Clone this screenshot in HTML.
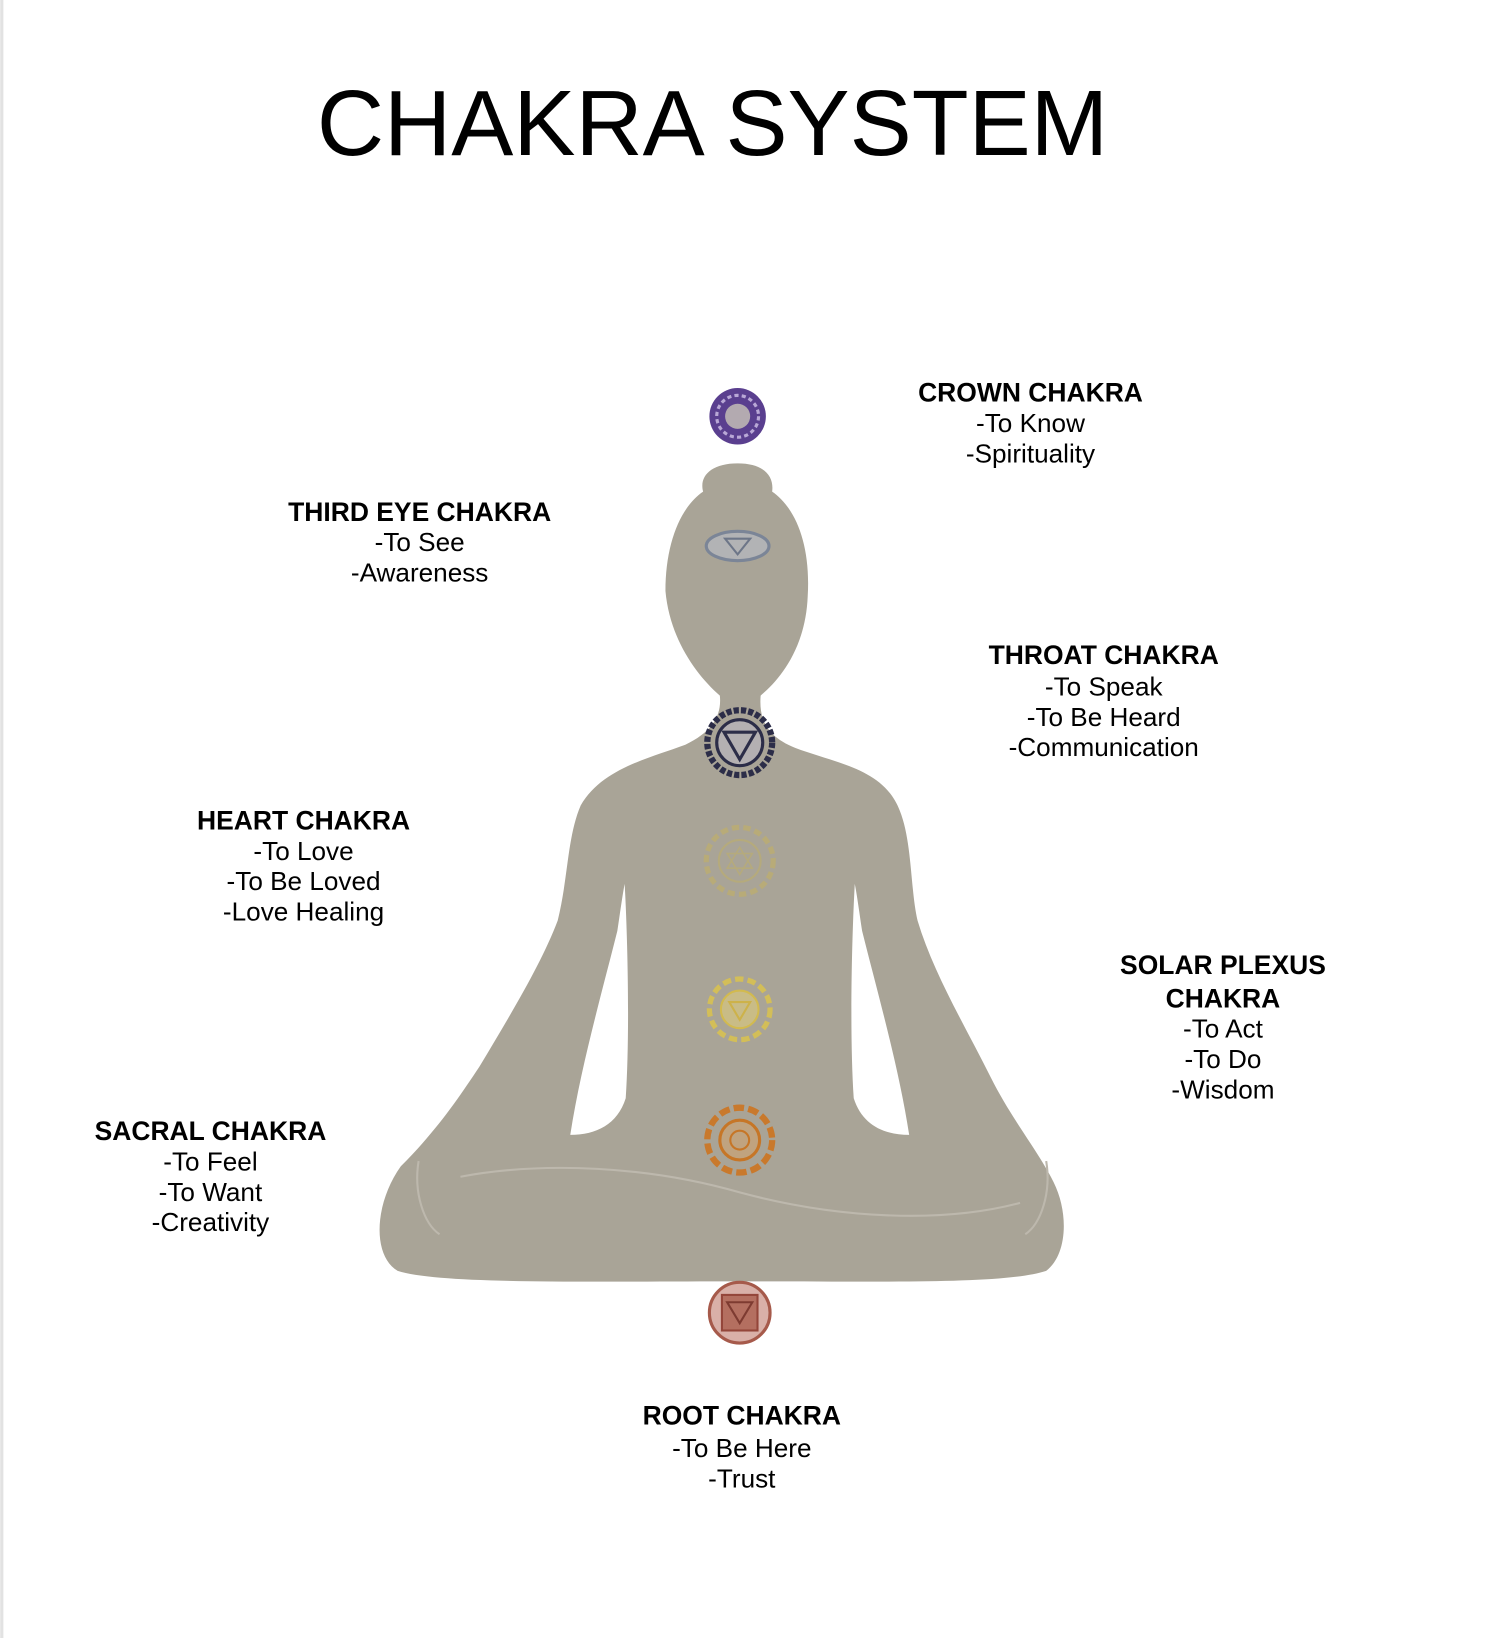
<!DOCTYPE html>
<html><head><meta charset="utf-8"><style>
html,body{margin:0;padding:0;background:#fff;}
svg{display:block;}
text{font-family:"Liberation Sans",Arial,sans-serif;fill:#000;}
.h{font-weight:bold;font-size:25.3px;}
.t{font-size:25px;}
</style></head><body>
<svg width="1492" height="1638" viewBox="0 0 1426 1566" xmlns="http://www.w3.org/2000/svg">
<rect x="0" y="0" width="1426" height="1566" fill="#fff"/>
<rect x="0" y="0" width="3" height="1566" fill="#e2e2e2"/>
<text x="681" y="148" font-size="89" text-anchor="middle">CHAKRA SYSTEM</text>

<path fill="#a9a497" d="M705,443 C730,443 740,455 738,470 C760,485 775,520 772,570 C770,620 745,650 727,665 C725,690 735,705 760,715 C800,730 845,735 860,775 C872,805 870,850 877,880 C892,930 922,980 947,1030 C967,1070 992,1100 1007,1130 C1022,1160 1020,1200 1000,1215 C960,1228 850,1225 707,1225 C560,1225 420,1228 380,1215 C355,1200 358,1150 383,1115 C418,1080 438,1050 458,1020 C488,970 518,920 533,880 C543,840 542,800 555,770 C575,735 620,725 655,712 C680,700 690,685 688,665 C665,645 640,610 636,565 C636,520 650,485 672,470 C668,455 680,443 705,443 Z"/>
<path fill="#fff" d="M597,845 C600,900 602,990 598,1050 C590,1075 570,1085 545,1085 C555,1020 575,950 590,890 C593,870 595,855 597,845 Z"/>
<path fill="#fff" d="M817,845 C814,900 812,990 816,1050 C824,1075 844,1085 869,1085 C859,1020 839,950 824,890 C821,870 819,855 817,845 Z"/>
<g fill="none" stroke="#bdb8ad" stroke-width="2">
<path d="M440,1125 C520,1110 620,1115 707,1140 C800,1165 900,1170 975,1150"/>
<path d="M400,1110 C395,1140 405,1170 420,1180"/>
<path d="M1000,1110 C1005,1140 995,1170 980,1180"/>
</g>

<circle cx="705" cy="398" r="27" fill="#5a3f8f"/>
<circle cx="705" cy="398" r="20" fill="none" stroke="#b9a8d6" stroke-width="3" stroke-dasharray="4 3"/>
<circle cx="705" cy="398" r="12" fill="#b3aab0"/>
<ellipse cx="705" cy="522" rx="30" ry="14" fill="#b2b3b5" stroke="#7b8597" stroke-width="3"/>
<path d="M693,515 L717,515 L705,530 Z" fill="none" stroke="#6d7688" stroke-width="2"/>
<circle cx="707" cy="710" r="31" fill="none" stroke="#2c2d48" stroke-width="6" stroke-dasharray="5 2"/>
<circle cx="707" cy="710" r="22" fill="#b4b0b2" stroke="#2c2d48" stroke-width="3"/>
<path d="M692,700 L722,700 L707,726 Z" fill="none" stroke="#2c2d48" stroke-width="3"/>
<circle cx="707" cy="823" r="32" fill="none" stroke="#b8ab78" stroke-width="5" stroke-dasharray="7 4"/>
<circle cx="707" cy="823" r="20" fill="none" stroke="#b5aa7c" stroke-width="2"/>
<path d="M695,816 L719,816 L707,836 Z M695,830 L719,830 L707,810 Z" fill="none" stroke="#b5aa7c" stroke-width="1.5"/>
<circle cx="707" cy="965" r="29" fill="none" stroke="#d3be58" stroke-width="5" stroke-dasharray="8 4"/>
<circle cx="707" cy="965" r="18" fill="#c9bc86" stroke="#d2ba4f" stroke-width="2"/>
<path d="M697,958 L717,958 L707,975 Z" fill="none" stroke="#cdb24a" stroke-width="2"/>
<circle cx="707" cy="1090" r="31" fill="none" stroke="#c9792c" stroke-width="6" stroke-dasharray="10 4"/>
<circle cx="707" cy="1090" r="19" fill="#c0a37f" stroke="#c67627" stroke-width="3"/>
<circle cx="707" cy="1090" r="9" fill="none" stroke="#c67627" stroke-width="2"/>
<circle cx="707" cy="1255" r="29" fill="#d9b0a8" stroke="#a65a4b" stroke-width="3"/>
<rect x="690" y="1238" width="34" height="34" fill="#b46f60" stroke="#94463a" stroke-width="2"/>
<path d="M695,1245 L719,1245 L707,1265 Z" fill="none" stroke="#7e3b31" stroke-width="2"/>

<g text-anchor="middle">
<text class="h" x="985" y="384">CROWN CHAKRA</text>
<text class="t" x="985" y="413">-To Know</text>
<text class="t" x="985" y="442">-Spirituality</text>
<text class="h" x="401" y="498">THIRD EYE CHAKRA</text>
<text class="t" x="401" y="527">-To See</text>
<text class="t" x="401" y="556">-Awareness</text>
<text class="h" x="1055" y="635">THROAT CHAKRA</text>
<text class="t" x="1055" y="665">-To Speak</text>
<text class="t" x="1055" y="694">-To Be Heard</text>
<text class="t" x="1055" y="723">-Communication</text>
<text class="h" x="290" y="793">HEART CHAKRA</text>
<text class="t" x="290" y="822">-To Love</text>
<text class="t" x="290" y="851">-To Be Loved</text>
<text class="t" x="290" y="880">-Love Healing</text>
<text class="h" x="1169" y="931">SOLAR PLEXUS</text>
<text class="h" x="1169" y="963">CHAKRA</text>
<text class="t" x="1169" y="992">-To Act</text>
<text class="t" x="1169" y="1021">-To Do</text>
<text class="t" x="1169" y="1050">-Wisdom</text>
<text class="h" x="201" y="1090">SACRAL CHAKRA</text>
<text class="t" x="201" y="1119">-To Feel</text>
<text class="t" x="201" y="1148">-To Want</text>
<text class="t" x="201" y="1177">-Creativity</text>
<text class="h" x="709" y="1362">ROOT CHAKRA</text>
<text class="t" x="709" y="1393">-To Be Here</text>
<text class="t" x="709" y="1422">-Trust</text>
</g>
</svg>
</body></html>
